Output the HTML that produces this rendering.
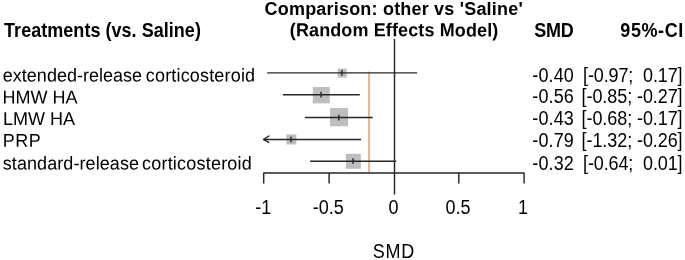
<!DOCTYPE html>
<html><head><meta charset="utf-8"><title>Forest plot</title>
<style>
html,body{margin:0;padding:0;background:#fff;}
body{width:685px;height:260px;overflow:hidden;font-family:"Liberation Sans",sans-serif;}
svg{display:block;}
text{font-family:"Liberation Sans",sans-serif;font-size:18px;fill:#000;white-space:pre;}
.b{font-weight:bold;}
.e{text-anchor:end;}
.m{text-anchor:middle;}
svg{filter:blur(0.5px);}
</style></head><body>
<svg width="685" height="260" viewBox="0 0 685 260">
<rect x="-5" y="-5" width="695" height="270" fill="#ffffff"/>
<rect x="337.72" y="68.60" width="9" height="9" fill="#bebebe"/>
<rect x="312.79" y="87.00" width="17" height="16.4" fill="#bebebe"/>
<rect x="330.11" y="108.05" width="18" height="18.2" fill="#bebebe"/>
<rect x="286.34" y="134.45" width="10" height="10" fill="#bebebe"/>
<rect x="345.84" y="153.80" width="15" height="15" fill="#bebebe"/>
<line x1="369" y1="71.6" x2="369" y2="172.7" stroke="#f4b183" stroke-width="1.9"/>
<line x1="267.91" y1="72.85" x2="416.33" y2="72.85" stroke="#262626" stroke-width="1.45" stroke-linecap="square"/>
<line x1="341.92" y1="69.94999999999999" x2="341.92" y2="75.75" stroke="#262626" stroke-width="1.4"/>
<line x1="283.53" y1="94.65" x2="359.05" y2="94.65" stroke="#262626" stroke-width="1.45" stroke-linecap="square"/>
<line x1="320.99" y1="91.75" x2="320.99" y2="97.55000000000001" stroke="#262626" stroke-width="1.4"/>
<line x1="305.66" y1="117.55" x2="372.07" y2="117.55" stroke="#262626" stroke-width="1.45" stroke-linecap="square"/>
<line x1="338.81" y1="114.64999999999999" x2="338.81" y2="120.45" stroke="#262626" stroke-width="1.4"/>
<path d="M268.9 136.0 L263.7 139.4 L268.7 142.4" fill="none" stroke="#262626" stroke-width="1.45" stroke-linecap="round" stroke-linejoin="round"/>
<line x1="263.7" y1="139.4" x2="360.35" y2="139.4" stroke="#262626" stroke-width="1.45" stroke-linecap="square"/>
<line x1="291.04" y1="136.5" x2="291.04" y2="142.3" stroke="#262626" stroke-width="1.4"/>
<line x1="310.87" y1="161.15" x2="395.5" y2="161.15" stroke="#262626" stroke-width="1.45" stroke-linecap="square"/>
<line x1="353.04" y1="158.25" x2="353.04" y2="164.05" stroke="#262626" stroke-width="1.4"/>
<line x1="394.5" y1="38.9" x2="394.5" y2="194.5" stroke="#262626" stroke-width="1.45"/>
<path d="M263.7 183.4 V172.9 H524.1 V183.4 M329.1 172.9 V183.4 M458.8 172.9 V183.4" fill="none" stroke="#262626" stroke-width="1.45" stroke-linejoin="round"/>
<text class="b" textLength="258.1" transform="matrix(1 0.0005 0 1.07 264.6 14.7)">Comparison: other vs 'Saline'</text>
<text class="b" textLength="208.5" transform="matrix(1 0.0005 0 1.045 289.8 36.3)">(Random Effects Model)</text>
<text class="b" textLength="196.8" transform="matrix(1 0.0005 0 1.09 4.1 36.8)">Treatments (vs. Saline)</text>
<text class="b" textLength="39.6" transform="matrix(1 0.0005 0 1.10 534.2 36.8)">SMD</text>
<text class="b" textLength="63" transform="matrix(1 0.0005 0 1.10 620.3 36.9)">95%-CI</text>
<text textLength="139.3" transform="matrix(1 0.0005 0 1.03 2.8 81.40)">extended-release</text>
<text textLength="109.3" transform="matrix(1 0.0005 0 1.03 145.8 81.40)">corticosteroid</text>
<text textLength="41.5" transform="matrix(1 0.0005 0 1.09 532.3 81.7)">-0.40</text>
<text textLength="99.6" xml:space="preserve" transform="matrix(1 0.0005 0 1.09 583.0 81.7)">[-0.97;  0.17]</text>
<text textLength="75" transform="matrix(1 0.0005 0 1.03 2.6 103.45)">HMW HA</text>
<text textLength="41.5" transform="matrix(1 0.0005 0 1.09 532.3 103.45)">-0.56</text>
<text textLength="101.0" xml:space="preserve" transform="matrix(1 0.0005 0 1.09 581.6 103.45)">[-0.85; -0.27]</text>
<text textLength="72.2" transform="matrix(1 0.0005 0 1.03 2.9 124.95)">LMW HA</text>
<text textLength="41.5" transform="matrix(1 0.0005 0 1.09 532.3 125.4)">-0.43</text>
<text textLength="101.0" xml:space="preserve" transform="matrix(1 0.0005 0 1.09 581.6 125.4)">[-0.68; -0.17]</text>
<text textLength="38.0" transform="matrix(1 0.0005 0 1.03 2.7 146.70)">PRP</text>
<text textLength="41.5" transform="matrix(1 0.0005 0 1.09 532.3 146.7)">-0.79</text>
<text textLength="101.0" xml:space="preserve" transform="matrix(1 0.0005 0 1.09 581.6 146.7)">[-1.32; -0.26]</text>
<text textLength="136.2" transform="matrix(1 0.0005 0 1.03 2.8 169.50)">standard-release</text>
<text textLength="109.8" transform="matrix(1 0.0005 0 1.03 142.0 169.50)">corticosteroid</text>
<text textLength="41.5" transform="matrix(1 0.0005 0 1.09 532.3 170.1)">-0.32</text>
<text textLength="99.6" xml:space="preserve" transform="matrix(1 0.0005 0 1.09 583.0 170.1)">[-0.64;  0.01]</text>
<text class="m" transform="matrix(1 0.0005 0 1.09 263.20 213.6)">-1</text>
<text class="m" transform="matrix(1 0.0005 0 1.09 328.30 213.6)">-0.5</text>
<text class="m" transform="matrix(1 0.0005 0 1.09 393.40 213.6)">0</text>
<text class="m" transform="matrix(1 0.0005 0 1.09 458.10 213.6)">0.5</text>
<text class="m" transform="matrix(1 0.0005 0 1.09 523.00 213.6)">1</text>
<text class="m" textLength="41.5" transform="matrix(1 0.0005 0 1.09 393.6 257.7)">SMD</text>
</svg></body></html>
